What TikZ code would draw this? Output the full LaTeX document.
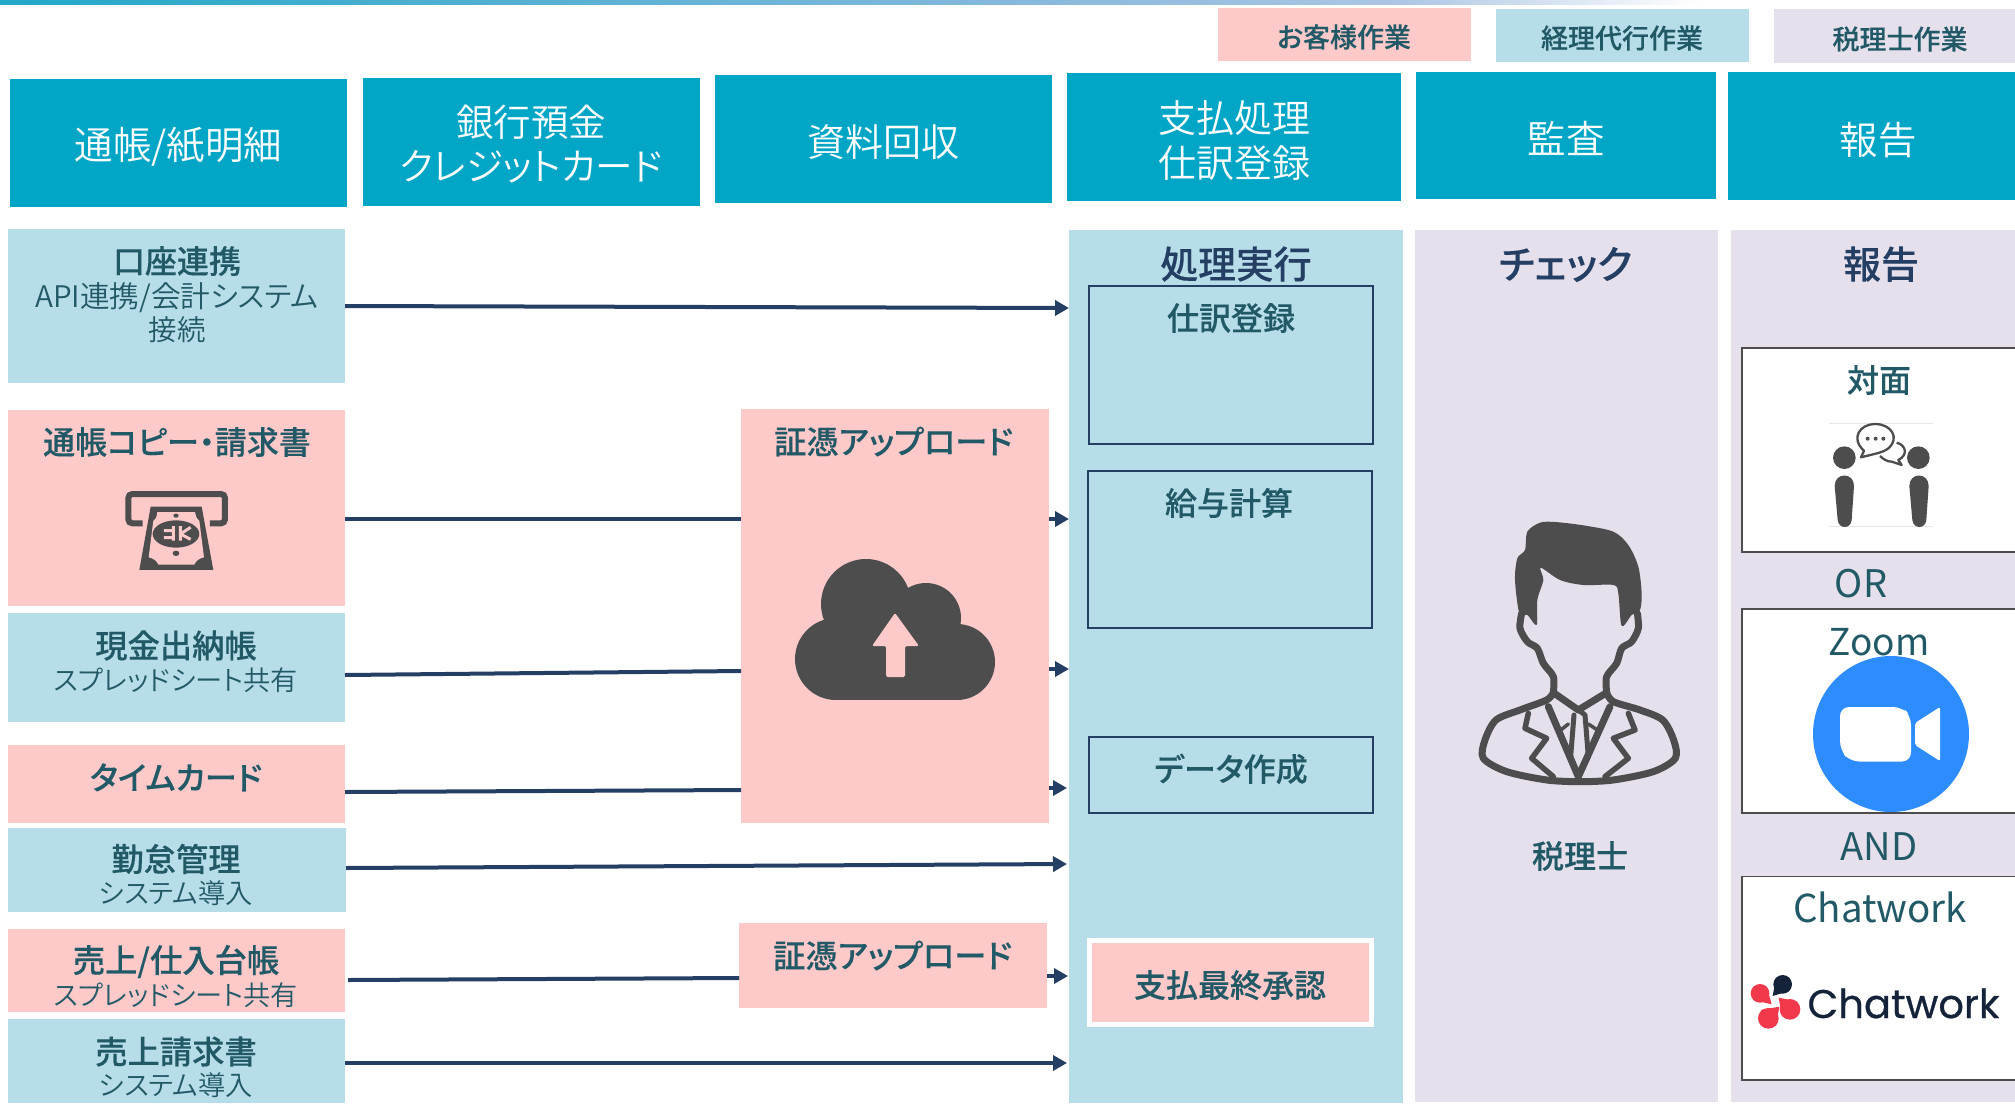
\documentclass[tikz,border=0pt]{standalone}
\usepackage{fontspec}
\usetikzlibrary{arrows.meta}
\setmainfont{Noto Sans CJK JP}[RawFeature=+palt]
\newfontfamily\rg{Noto Sans CJK JP}[RawFeature=+palt]
\newfontfamily\lt{Noto Sans CJK JP DemiLight}[RawFeature=+palt]
\newfontfamily\md{Noto Sans CJK JP Medium}[RawFeature=+palt,FakeBold=0.2]
\newfontfamily\cwf{Poppins}[FakeBold=0.6]
\definecolor{hdr}{HTML}{01A6C7}
\definecolor{pale}{HTML}{B7DDE8}
\definecolor{pinkb}{HTML}{FEC9C9}
\definecolor{lav}{HTML}{E5E0EC}
\definecolor{tealt}{HTML}{215967}
\definecolor{navy}{HTML}{243F63}
\definecolor{icon}{HTML}{4D4D4D}
\definecolor{zoomb}{HTML}{2D8CFF}
\definecolor{cwred}{HTML}{F2394C}
\definecolor{cwdark}{HTML}{14233A}
\definecolor{barA}{HTML}{22A8C8}
\definecolor{barB}{HTML}{84B8DC}
\definecolor{barC}{HTML}{ACC6E4}
\definecolor{hair}{HTML}{E6E6E6}
\def\st{\rule{0pt}{.88em}\rule[-.12em]{0pt}{.12em}}
\newcommand{\bx}[6]{\node[#2,anchor=north west,minimum width={(#5-#3)*1pt},minimum height={(#6-#4)*1pt}] (#1) at (#3,#4) {};}
\newcommand{\lbl}[7]{\node[lab,text=#6,font={#5\fontsize{#4pt}{44.5pt}\selectfont}] (#1) at (#2,#3) {\st #7};}
\tikzset{
  plain/.style={inner sep=0pt,outer sep=0pt,draw=none},
  headbox/.style={plain,fill=hdr},
  palebox/.style={plain,fill=pale},
  pinkbox/.style={plain,fill=pinkb},
  lavbox/.style={plain,fill=lav},
  innerbox/.style={inner sep=0pt,outer sep=0pt,draw=navy,line width=1.8pt,fill=pale},
  whitebox/.style={inner sep=0pt,outer sep=0pt,draw=icon,line width=1.4pt,fill=white},
  okbox/.style={inner sep=0pt,outer sep=0pt,draw=white,line width=5pt,fill=pinkb},
  lab/.style={inner sep=0pt,outer sep=0pt,align=center},
  link/.style={draw=navy,line width=4pt},
  linka/.style={link,-{Triangle[length=14pt,width=15pt]}},
}
\begin{document}
\begin{tikzpicture}[x=1pt,y=-1pt]
\clip (0,0) rectangle (2015,1103);
\fill[white] (0,0) rectangle (2015,1103);
% top gradient bar
\shade[left color=barA,right color=barB] (0,0) rectangle (1000,4);
\shade[left color=barB,right color=barC] (1000,0) rectangle (1400,4);
\shade[left color=barC,right color=white] (1400,0) rectangle (1700,4);
% legend
\bx{legA}{pinkbox}{1218}{8}{1471}{61}
\bx{legB}{palebox}{1496}{9}{1749}{62}
\bx{legC}{lavbox}{1774}{9}{2020}{63}
\lbl{tlegA}{1344}{37}{27}{\md}{tealt}{お客様作業}
\lbl{tlegB}{1622}{38}{27}{\md}{tealt}{経理代行作業}
\lbl{tlegC}{1900}{39}{27}{\md}{tealt}{税理士作業}
% headers
\bx{h1}{headbox}{10}{79}{347}{207}
\bx{h2}{headbox}{363}{78}{700}{206}
\bx{h3}{headbox}{715}{75}{1052}{203}
\bx{h4}{headbox}{1067}{73}{1401}{201}
\bx{h5}{headbox}{1416}{72}{1716}{199}
\bx{h6}{headbox}{1728}{72}{2020}{200}
\lbl{th1}{178.5}{146}{38.5}{\lt}{white}{通帳/紙明細}
\lbl{th2}{531}{144}{37.5}{\lt}{white}{銀行預金\\\st クレジットカード}
\lbl{th3}{883}{142.5}{38}{\lt}{white}{資料回収}
\lbl{th4}{1234}{140.5}{38}{\lt}{white}{支払処理\\\st 仕訳登録}
\lbl{th5}{1566}{138.5}{38.5}{\lt}{white}{監査}
\lbl{th6}{1878}{139.5}{38.5}{\lt}{white}{報告}
% left column
\bx{koza}{palebox}{8}{229}{345}{383}
\bx{tsucho}{pinkbox}{8}{410}{345}{606}
\bx{genkin}{palebox}{8}{613}{345}{722}
\bx{timec}{pinkbox}{8}{745}{345}{823}
\bx{kintai}{palebox}{8}{828}{346}{912}
\bx{daicho}{pinkbox}{8}{929}{345}{1012}
\bx{seikyu}{palebox}{8}{1019}{345}{1103}
\lbl{tkoza}{177}{261}{32}{\md}{tealt}{口座連携}
\lbl{tkozb}{177}{297.5}{29.7}{\lt}{tealt}{API連携/会計システム}
\lbl{tkozc}{177}{329.5}{28.5}{\lt}{tealt}{接続}
\lbl{ttsu}{177}{442}{32}{\md}{tealt}{通帳コピー・請求書}
\lbl{tgena}{176}{645.5}{32.3}{\md}{tealt}{現金出納帳}
\lbl{tgenb}{176}{680}{27.2}{\lt}{tealt}{スプレッドシート共有}
\lbl{ttime}{176}{777.5}{32}{\md}{tealt}{タイムカード}
\lbl{tkina}{176}{859}{32.3}{\md}{tealt}{勤怠管理}
\lbl{tkinb}{176}{893.5}{27.2}{\lt}{tealt}{システム導入}
\lbl{tdaia}{176}{961}{32.3}{\md}{tealt}{売上/仕入台帳}
\lbl{tdaib}{176}{995.5}{27.2}{\lt}{tealt}{スプレッドシート共有}
\lbl{tseia}{176}{1051.5}{32.3}{\md}{tealt}{売上請求書}
\lbl{tseib}{176}{1085}{27.2}{\lt}{tealt}{システム導入}
% upload
\bx{up1}{pinkbox}{741}{409}{1049}{823}
\bx{up2}{pinkbox}{739}{923}{1047}{1008}
\lbl{tup1}{893.5}{441.5}{32.3}{\md}{tealt}{証憑アップロード}
\lbl{tup2}{892.5}{955.5}{32.3}{\md}{tealt}{証憑アップロード}
% process columns
\bx{col}{palebox}{1069}{230}{1403}{1103}
\bx{chk}{lavbox}{1415}{230}{1718}{1102}
\bx{rep}{lavbox}{1731}{230}{2020}{1102}
\lbl{tcol}{1236}{264}{37.8}{\md}{navy}{処理実行}
\lbl{tchk}{1565.5}{264}{39}{\md}{navy}{チェック}
\lbl{trep}{1881}{264}{38}{\md}{navy}{報告}
\bx{shiwake}{innerbox}{1089}{286}{1373}{444}
\bx{kyuyo}{innerbox}{1088}{471}{1372}{628}
\bx{datab}{innerbox}{1089}{737}{1373}{813}
\bx{saishu}{okbox}{1089.5}{940.5}{1371.5}{1024.5}
\lbl{tshi}{1231}{318}{32}{\md}{tealt}{仕訳登録}
\lbl{tkyu}{1229}{503}{32}{\md}{tealt}{給与計算}
\lbl{tdat}{1231}{769}{32}{\md}{tealt}{データ作成}
\lbl{tsai}{1230}{985}{32}{\md}{tealt}{支払最終承認}
\lbl{tzei}{1580}{856}{32}{\md}{tealt}{税理士}
% report boxes
\bx{fm}{whitebox}{1742}{348}{2030}{552}
\bx{zm}{whitebox}{1742}{609}{2030}{813}
\bx{cw}{whitebox}{1742}{876.5}{2030}{1080}
\lbl{tfm}{1879}{380}{32}{\md}{tealt}{対面}
\lbl{tor}{1861}{583}{38}{\rg}{tealt}{OR}
\lbl{tzm}{1879}{641}{37}{\rg}{tealt}{Zoom}
\lbl{tand}{1879}{846}{38}{\rg}{tealt}{AND}
\lbl{tcw}{1880}{908}{38.5}{\rg}{tealt}{Chatwork}
% connectors
\coordinate (c1) at (1069,308);
\coordinate (c2) at (1069,519);
\coordinate (c3) at (1069,669);
\coordinate (c4) at (1067,788);
\coordinate (c5) at (1067,864);
\coordinate (c6) at (1068,976);
\coordinate (c7) at (1067,1063);
\draw[linka] (koza.east) -- (c1);
\draw[link] ([yshift=-11pt]tsucho.east) -- ([yshift=97pt]up1.west);
\draw[link] ([yshift=-7.5pt]genkin.east) -- ([yshift=-55pt]up1.west);
\draw[link] ([yshift=-8pt]timec.east) -- ([yshift=-174pt]up1.west);
\draw[linka] ([yshift=97pt]up1.east) -- (c2);
\draw[linka] ([yshift=-53pt]up1.east) -- (c3);
\draw[linka] ([yshift=-172pt]up1.east) -- (c4);
\draw[linka] ([yshift=2pt]kintai.east) -- (c5);
\draw[link] ([xshift=3pt,yshift=-9.5pt]daicho.east) -- ([yshift=-12.5pt]up2.west);
\draw[linka] ([yshift=-10.5pt]up2.east) -- (c6);
\draw[linka] ([yshift=-2pt]seikyu.east) -- (c7);
% ATM icon
\begin{scope}[shift={(100,470)},x=0.3333pt,y=-0.3333pt]
\draw[icon,line width=6pt,rounded corners=4pt] (128,160) -- (85,160) -- (85,72) -- (375,72) -- (375,160) -- (330,160);
\fill[icon] (152,110) -- (305,110) -- (340,300) -- (118,300) -- cycle;
\fill[pinkb] (172,126) -- (285,126) .. controls (288,145) and (295,150) .. (298,152) -- (312,262) .. controls (298,265) and (288,272) .. (283,284) -- (175,284) .. controls (170,272) and (160,265) .. (146,262) -- (160,152) .. controls (165,150) and (170,145) .. (172,126) -- cycle;
\fill[icon] (228,192) ellipse [x radius=70,y radius=41];
\fill[icon] (228,137) ellipse [x radius=8,y radius=6];
\fill[icon] (228,250) ellipse [x radius=10,y radius=8];
\draw[pinkb,line width=3pt] (220,168) -- (220,212) (241,168) -- (241,212) (192,182) -- (220,182) (192,203) -- (220,203) (241,192) -- (272,172) (241,192) -- (272,208);
\end{scope}
% cloud icon
\fill[icon] (866,604) circle (45);
\fill[icon] (926,618) circle (35);
\fill[icon] (836,659) circle (41);
\fill[icon] (957,662) circle (38);
\fill[icon] (836,640) rectangle (957,700);
\fill[pinkb,rounded corners=1.5pt] (895,613) -- (919,646) -- (905,646) -- (905,677) -- (886,677) -- (886,646) -- (872,646) -- cycle;
% accountant icon
\begin{scope}[shift={(1440,500)},x=0.3333pt,y=-0.3333pt]
\fill[icon] plot[smooth cycle,tension=.5] coordinates {(255,150) (262,95) (300,68) (345,66) (430,76) (520,95) (565,135) (595,200) (605,280) (600,330) (575,345) (545,378) (535,280) (520,255) (430,255) (360,240) (302,203) (310,240) (292,300) (290,375) (262,345) (238,340) (225,240) (232,175)};
\begin{scope}[draw=icon,line width=7pt,line join=round,line cap=round]
\draw plot[smooth,tension=.5] coordinates {(245,340) (240,385) (262,425) (292,445) (310,490) (340,530) (340,578)};
\draw plot[smooth,tension=.5] coordinates {(592,340) (595,385) (575,425) (545,445) (530,490) (500,530) (500,578)};
\draw plot[smooth,tension=.5] coordinates {(340,578) (320,600) (240,630) (168,660) (135,720) (130,775) (200,815) (320,840) (420,845) (520,840) (640,815) (706,775) (701,720) (668,660) (600,630) (520,605) (500,578)};
\draw (340,578) -- (415,630) -- (500,578);
\draw (325,620) -- (415,830) -- (510,620);
\draw[line width=5pt] (402,645) -- (392,770) -- (415,830) -- (445,770) -- (435,645) -- (415,630);
\draw[line width=5.5pt] (265,640) -- (255,685) -- (320,715) -- (275,775) -- (340,830);
\draw[line width=5.5pt] (565,640) -- (585,690) -- (520,715) -- (565,775) -- (495,830);
\draw[line width=3.5pt] (360,692) -- (385,672) (445,672) -- (475,692);
\end{scope}
\end{scope}
% meeting icon
\begin{scope}[shift={(1800,400)},x=0.3333pt,y=-0.3333pt]
\draw[hair,line width=1pt] (87,70) -- (400,70) (87,380) -- (400,380);
\fill[icon] (133,173) circle (34);
\fill[icon] (355,173) circle (34);
\fill[icon] (104,258) .. controls (104,216) and (162,216) .. (162,258) -- (155,360) .. controls (152,388) and (116,388) .. (113,360) -- cycle;
\fill[icon] (328,258) .. controls (328,216) and (386,216) .. (386,258) -- (379,360) .. controls (376,388) and (340,388) .. (337,360) -- cycle;
\draw[icon,line width=2.3pt,line join=round] (183,172) -- (192,152) .. controls (150,115) and (180,72) .. (225,72) .. controls (275,72) and (300,115) .. (265,145) .. controls (250,158) and (220,162) .. (183,172) -- cycle;
\fill[icon] (203,116) circle (6);
\fill[icon] (227,116) circle (6);
\fill[icon] (250,116) circle (6);
\draw[icon,line width=2.3pt,line join=round] (290,128) .. controls (318,135) and (325,165) .. (295,180) -- (305,195) -- (275,185) .. controls (262,185) and (250,178) .. (240,168);
\end{scope}
% zoom logo
\fill[zoomb] (1891,734) circle (78);
\fill[white,rounded corners=9pt] (1840,707) -- (1902,707) -- (1911,716) -- (1911,761.5) -- (1850,761.5) -- (1840,750) -- cycle;
\fill[white,rounded corners=2pt] (1915,723) -- (1940,707) -- (1940,761) -- (1915,745) -- cycle;
% chatwork logo
\begin{scope}[shift={(1730,960)},x=0.3333pt,y=-0.3333pt]
\fill[cwred] (90,100) circle (28);
\fill[cwred] (125,133) -- (110,80) -- (70,120) -- cycle;
\fill[cwdark] (158,73) circle (28);
\fill[cwdark] (128,108) -- (138,53) -- (178,93) -- cycle;
\fill[cwred] (180,148) circle (31);
\fill[cwred] (146,113) -- (200,124) -- (156,170) -- cycle;
\fill[cwred] (115,175) circle (31);
\fill[cwred] (148,140) -- (92,150) -- (138,198) -- cycle;
\end{scope}
\node[inner sep=0pt,anchor=base,text=cwdark,font={\cwf\fontsize{40pt}{44pt}\selectfont}] (cwlogo) at (1903.5,1018) {Chatwork};
\end{tikzpicture}
\end{document}
